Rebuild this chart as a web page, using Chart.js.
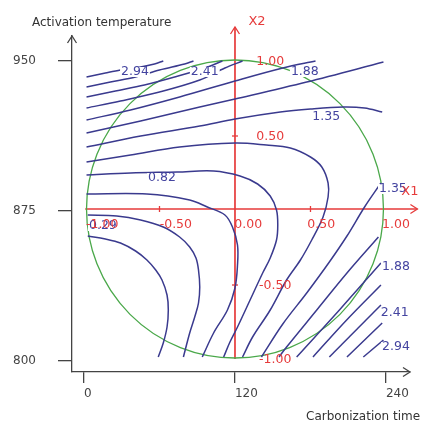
<!DOCTYPE html>
<html>
<head>
<meta charset="utf-8">
<script src="https://cdn.jsdelivr.net/npm/chart.js@4.4.1/dist/chart.umd.min.js"></script>
<style>
  html, body { margin: 0; padding: 0; background: #fff; }
</style>
</head>
<body>
<canvas id="contourChart" width="423" height="421"></canvas>
<script>
// axis ticks (carbonization time, activation temperature)
var timeTicks = [0, 120, 240];
var tempTicks = [800, 875, 950];

// design region (centre and half range in real units)
var designCenter = [120, 876];
var designHalfRange = [118, 74.5];

// contour lines, [time, temperature]
var line01 = [[2,942],[17,944],[29,945.5],[45,947],[56,948.5],[63,950]];
var line02 = [[2,937],[21,939.5],[41,942],[60,945.5],[80,948.5],[87,950]];
var line03 = [[2,932],[25,935],[48,938],[72,942],[96,946.5],[110,950]];
var line04 = [[2,926.5],[29,930],[60,934.5],[92,940.5],[112,946.5],[126,950]];
var line05 = [[2,920.5],[37,925.5],[76,932],[120,940],[158,946.5],[184,950]];
var line06 = [[2,914],[45,920],[92,927],[120,931],[177,939.5],[238,949.5]];
var line07 = [[2,907],[45,912.5],[92,917.5],[120,921],[156,924.5],[180,926],[206,927],[223,926.5],[237,924.5]];
var line08 = [[2,899.5],[37,903],[76,907],[120,909],[145,908],[164,906.5],[180,902],[189,897],[194,889],[194,882],[190,872],[181,860.5],[172,850.5],[161,840.5],[148,825.5],[134,812],[126,802]];
var line09 = [[2,893],[37,894],[74,894.5],[103,895],[124,892.5],[138,888.5],[148,882.5],[153,875.5],[154,868],[153,860.5],[148,851.5],[142,844],[132,830.5],[122,817],[116,809.5],[111,802]];
var line10 = [[2,883.5],[50,883.5],[84,880.5],[98,877],[112,873],[118,867],[122,858],[122,848],[120,836.5],[114,825.5],[103,814],[94,802]];
var line11 = [[3,873],[26,872.5],[45,870.5],[63,867],[76,862],[84,857],[89,851.5],[91,845.5],[92,837],[91,829],[88,822],[84,814],[79,802]];
var line12 = [[3,862.5],[17,861],[29,859],[41,855],[50,850.5],[57,845.5],[62,840.5],[66,833],[67,825.5],[66,817],[63,809],[59,802]];
var line13 = [[141,802],[158,818.5],[177,834],[195,849.5],[209,862.5],[223,877],[236,889]];
var line14 = [[155,802],[161,807],[185,825.5],[209,844],[234,862]];
var line15 = [[169,802],[203,825.5],[236,849]];
var line16 = [[182,802],[208,820],[236,838]];
var line17 = [[195,802],[236,828]];
var line18 = [[209,802],[237,819]];
var line19 = [[222,802],[238,810.5]];

var contourLines = [line01, line02, line03, line04, line05, line06, line07, line08, line09, line10,
                    line11, line12, line13, line14, line15, line16, line17, line18, line19];

// contour level labels
var levelTexts = ['2.94', '2.41', '1.88', '1.35', '0.82', '0.29', '1.35', '1.88', '2.41', '2.94'];
var levelTimes = [40.5, 96, 175.5, 192.5, 62, 15, 245.5, 248, 247, 248];
var levelTemps = [944.5, 944.5, 944.5, 922, 891.5, 867.5, 886, 847, 824, 807];

// coded axis labels
var x1Texts = ['-1.00', '-0.50', '0.00', '0.50', '1.00'];
var x1Times = [14.5, 73, 130.5, 188.5, 248];
var x2Texts = ['1.00', '0.50', '-0.50', '-1.00'];
var x2Times = [148, 148, 152, 152];
var x2Temps = [949.5, 912, 837.5, 800.5];

var axisColor = '#444';
var redColor = '#e63b3b';
var blueColor = '#3a3a8e';

function drawArrow(ctx, x, y, dx, dy) {
    // open arrow head pointing along (dx, dy)
    var len = 7, half = 4.5;
    var bx = x - dx * len, by = y - dy * len;
    ctx.beginPath();
    ctx.moveTo(bx - dy * half, by + dx * half);
    ctx.lineTo(x, y);
    ctx.lineTo(bx + dy * half, by - dx * half);
    ctx.stroke();
}

var decorPlugin = {
    id: 'decor',
    beforeDatasetsDraw: function(chart) {
        var ctx = chart.ctx, xs = chart.scales.x, ys = chart.scales.y;
        ctx.save();

        // red coded axes X1 / X2
        var yAxisX1 = ys.getPixelForValue(designCenter[1]);
        var xAxisX2 = xs.getPixelForValue(designCenter[0]);
        ctx.strokeStyle = redColor;
        ctx.lineWidth = 1.7;
        ctx.beginPath();
        ctx.moveTo(xs.getPixelForValue(1), yAxisX1);
        ctx.lineTo(xs.getPixelForValue(265), yAxisX1);
        ctx.moveTo(xAxisX2, ys.getPixelForValue(801));
        ctx.lineTo(xAxisX2, ys.getPixelForValue(967));
        ctx.stroke();
        ctx.lineWidth = 1.3;
        drawArrow(ctx, xs.getPixelForValue(265), yAxisX1, 1, 0);
        drawArrow(ctx, xAxisX2, ys.getPixelForValue(967), 0, -1);
        [60, 180].forEach(function(t) {
            var px = xs.getPixelForValue(t);
            ctx.beginPath();
            ctx.moveTo(px, yAxisX1 - 3);
            ctx.lineTo(px, yAxisX1 + 3);
            ctx.stroke();
        });
        [912.5, 838].forEach(function(v) {
            var py = ys.getPixelForValue(v);
            ctx.beginPath();
            ctx.moveTo(xAxisX2 - 3, py);
            ctx.lineTo(xAxisX2 + 3, py);
            ctx.stroke();
        });

        // green design circle
        var cx = xs.getPixelForValue(designCenter[0]);
        var cy = ys.getPixelForValue(designCenter[1]);
        var rx = xs.getPixelForValue(designCenter[0] + designHalfRange[0]) - cx;
        var ry = cy - ys.getPixelForValue(designCenter[1] + designHalfRange[1]);
        ctx.strokeStyle = '#4aa84a';
        ctx.lineWidth = 1.3;
        ctx.beginPath();
        ctx.ellipse(cx, cy, rx, ry, 0, 0, Math.PI * 2);
        ctx.stroke();
        ctx.restore();
    },
    afterDatasetsDraw: function(chart) {
        var ctx = chart.ctx, xs = chart.scales.x, ys = chart.scales.y;
        var area = chart.chartArea;
        ctx.save();

        // contour level labels, with a gap in the line behind them
        ctx.font = '12.5px "DejaVu Sans"';
        ctx.textAlign = 'center';
        ctx.textBaseline = 'middle';
        levelTexts.forEach(function(txt, i) {
            var px = xs.getPixelForValue(levelTimes[i]);
            var py = ys.getPixelForValue(levelTemps[i]);
            var w = ctx.measureText(txt).width;
            ctx.fillStyle = '#fff';
            ctx.fillRect(px - w / 2 - 1, py - 5, w + 2, 10);
        });
        ctx.fillStyle = '#4444a0';
        levelTexts.forEach(function(txt, i) {
            ctx.fillText(txt, xs.getPixelForValue(levelTimes[i]), ys.getPixelForValue(levelTemps[i]));
        });

        // coded axis labels
        ctx.fillStyle = redColor;
        x1Texts.forEach(function(txt, i) {
            ctx.fillText(txt, xs.getPixelForValue(x1Times[i]), ys.getPixelForValue(868));
        });
        x2Texts.forEach(function(txt, i) {
            ctx.fillText(txt, xs.getPixelForValue(x2Times[i]), ys.getPixelForValue(x2Temps[i]));
        });
        ctx.font = '13px "DejaVu Sans"';
        ctx.fillText('X2', xs.getPixelForValue(137.5), ys.getPixelForValue(969.5));
        ctx.fillText('X1', xs.getPixelForValue(259), ys.getPixelForValue(884.5));

        // arrows on the main axes
        ctx.strokeStyle = axisColor;
        ctx.lineWidth = 1.3;
        drawArrow(ctx, area.left, area.top, 0, -1);
        drawArrow(ctx, area.right, area.bottom, 1, 0);

        // axis titles
        ctx.fillStyle = '#333';
        ctx.font = '12px "DejaVu Sans"';
        ctx.textAlign = 'left';
        ctx.textBaseline = 'alphabetic';
        ctx.fillText('Activation temperature', area.left - 40, area.top - 10);
        ctx.fillText('Carbonization time', area.right - 104, chart.height - 1);
        ctx.restore();
    }
};

var ctx = document.getElementById('contourChart').getContext('2d');
new Chart(ctx, {
    type: 'scatter',
    data: {
        datasets: contourLines.map(function(pts) {
            return {
                data: pts.map(function(p) { return { x: p[0], y: p[1] }; }),
                showLine: true,
                borderColor: blueColor,
                borderWidth: 1.5,
                pointRadius: 0,
                tension: 0.35,
                fill: false,
                clip: false
            };
        })
    },
    options: {
        responsive: false,
        animation: false,
        layout: { padding: { left: 0, top: 36, right: 13, bottom: 0 } },
        plugins: {
            legend: { display: false },
            tooltip: { enabled: false }
        },
        scales: {
            x: {
                type: 'linear',
                min: -9.54,
                max: 259.1,
                afterFit: function(scale) { scale.height = 49; },
                afterBuildTicks: function(scale) {
                    scale.ticks = timeTicks.map(function(v) { return { value: v }; });
                },
                grid: { drawOnChartArea: false, color: axisColor, lineWidth: 1.3, tickLength: 11 },
                border: { color: axisColor, width: 1.3 },
                ticks: {
                    align: 'start',
                    maxRotation: 0,
                    padding: 4,
                    color: '#444',
                    font: { family: 'DejaVu Sans', size: 12 }
                }
            },
            y: {
                type: 'linear',
                min: 794.5,
                max: 962.5,
                afterFit: function(scale) { scale.width = 72; },
                afterBuildTicks: function(scale) {
                    scale.ticks = tempTicks.map(function(v) { return { value: v }; });
                },
                grid: { drawOnChartArea: false, color: axisColor, lineWidth: 1.3, tickLength: 14 },
                border: { color: axisColor, width: 1.3 },
                ticks: {
                    padding: 22,
                    color: '#444',
                    font: { family: 'DejaVu Sans', size: 12 }
                }
            }
        }
    },
    plugins: [decorPlugin]
});
</script>
</body>
</html>
